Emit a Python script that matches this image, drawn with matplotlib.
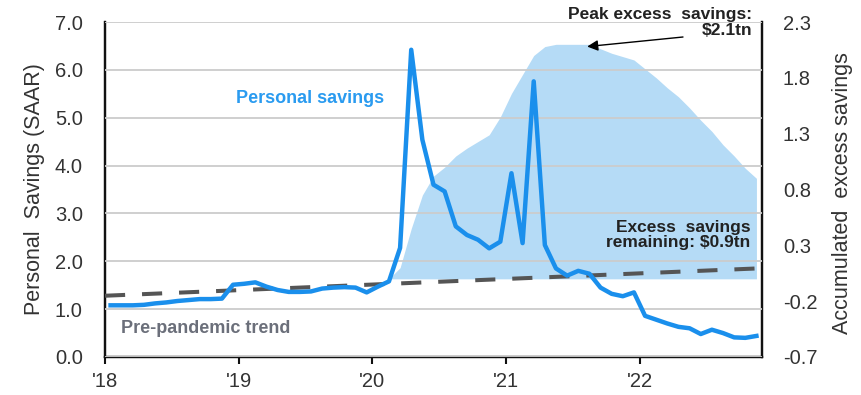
import numpy as np
import matplotlib
matplotlib.use("Agg")
import matplotlib.pyplot as plt

plt.rcParams['font.family'] = ['Liberation Sans', 'DejaVu Sans']

# monthly personal savings, $tn SAAR, Jan 2018 .. Nov 2022
savings = [1.08, 1.08, 1.08, 1.09, 1.12, 1.14, 1.17, 1.19, 1.21, 1.21, 1.22, 1.51,
           1.53, 1.56, 1.47, 1.40, 1.36, 1.36, 1.37, 1.43, 1.45, 1.46, 1.45, 1.35,
           1.47, 1.58, 2.28, 6.42, 4.54, 3.60, 3.46, 2.73, 2.55, 2.45, 2.27, 2.41,
           3.84, 2.38, 5.76, 2.34, 1.85, 1.70, 1.80, 1.74, 1.45, 1.32, 1.27, 1.35,
           0.86, 0.78, 0.70, 0.63, 0.60, 0.48, 0.57, 0.50, 0.41, 0.40, 0.44]

# accumulated excess savings, $tn, Feb 2020 .. Nov 2022
excess_start = 25
excess = [0.00, 0.10, 0.45, 0.75, 0.92, 1.00, 1.10, 1.17, 1.23, 1.29, 1.45,
          1.66, 1.83, 2.00, 2.08, 2.10, 2.10, 2.10, 2.10, 2.06, 2.02, 1.99, 1.96,
          1.88, 1.80, 1.71, 1.63, 1.53, 1.42, 1.32, 1.20, 1.10, 0.99, 0.90]

# pre-pandemic trend (straight line), start and end values
trend_vals = [1.28, 1.85]

year_labels = ["'18", "'19", "'20", "'21", "'22"]
left_ticks = [0, 1, 2, 3, 4, 5, 6, 7]
right_ticks = [-0.7, -0.2, 0.3, 0.8, 1.3, 1.8, 2.3]

blue = '#1a8fec'
fill_blue = '#b5dbf6'
txt_dark = '#222222'

months = np.arange(len(savings)) + 0.5
ex_months = months[excess_start:excess_start + len(excess)]
trend_x = [0, months[-1]]

fig = plt.figure(figsize=(8.61, 3.95), dpi=100)
ax1 = fig.add_axes([105 / 861, 1 - 357 / 395, 657 / 861, 335 / 395])
ax2 = ax1.twinx()
ax1.set_zorder(ax2.get_zorder() + 1)
ax1.patch.set_visible(False)

# excess savings area on the right axis
ax2.fill_between(ex_months, 0, excess, color=fill_blue, lw=0)
ax2.set_ylim(-0.7, 2.3)
ax2.set_yticks(right_ticks)
ax2.set_yticklabels([f'{t:.1f}' for t in right_ticks])

# savings line and trend on the left axis
ax1.plot(trend_x, trend_vals, color='#555555', lw=2.9, ls=(0, (5, 4.2)), zorder=3)
ax1.plot(months, savings, color=blue, lw=3.2, solid_joinstyle='round', zorder=4)
ax1.set_xlim(0, 59)
ax1.set_ylim(0, 7)
ax1.set_yticks(left_ticks)
ax1.set_yticklabels([f'{t:.1f}' for t in left_ticks])
ax1.set_xticks([0, 12, 24, 36, 48])
ax1.set_xticklabels(year_labels)
ax1.yaxis.grid(True, color='#cccccc', lw=1.3)
ax1.set_axisbelow(False)

for ax in (ax1, ax2):
    ax.spines['top'].set_visible(False)
    for s in ('left', 'right', 'bottom'):
        ax.spines[s].set_color('#111111')
        ax.spines[s].set_linewidth(1.6)
    ax.tick_params(axis='y', length=0, labelsize=14.5, colors='#333333')
ax1.tick_params(axis='y', pad=16)
ax2.tick_params(axis='y', pad=15)
ax1.tick_params(axis='x', length=5, width=1.5, direction='out', pad=6,
                labelsize=14.5, colors='#111111', labelcolor='#333333')

ax1.set_ylabel('Personal  Savings (SAAR)', fontsize=15.5, color='#333333')
ax1.yaxis.set_label_coords(-0.091, 0.5)
ax2.set_ylabel('Accumulated  excess savings', fontsize=15.5, color='#333333', rotation=90)
ax2.yaxis.set_label_coords(1.107, 0.49)

ax1.text(11.8, 5.41, 'Personal savings', color='#2a9bf0', fontsize=13,
         fontweight='bold', ha='left', va='center')
ax1.text(1.44, 0.6, 'Pre-pandemic trend', color='#6b6f7a', fontsize=13,
         fontweight='bold', ha='left', va='center')
ax1.text(57.95, 2.87, 'Excess  savings\nremaining: $0.9tn', color=txt_dark,
         fontsize=12.5, fontweight='bold', ha='right', va='top', linespacing=1.05)

fig.text(752 / 861, 1 - 7 / 395, 'Peak excess  savings:\n$2.1tn', color=txt_dark,
         fontsize=12.5, fontweight='bold', ha='right', va='top', linespacing=1.05)
ax2.annotate('', xy=(43.3, 2.08), xycoords='data',
             xytext=(683 / 861, 1 - 37 / 395), textcoords='figure fraction',
             arrowprops=dict(arrowstyle='-|>', color='black', lw=1,
                             mutation_scale=16, shrinkA=0, shrinkB=0))

fig.savefig('out.png', dpi=100)
